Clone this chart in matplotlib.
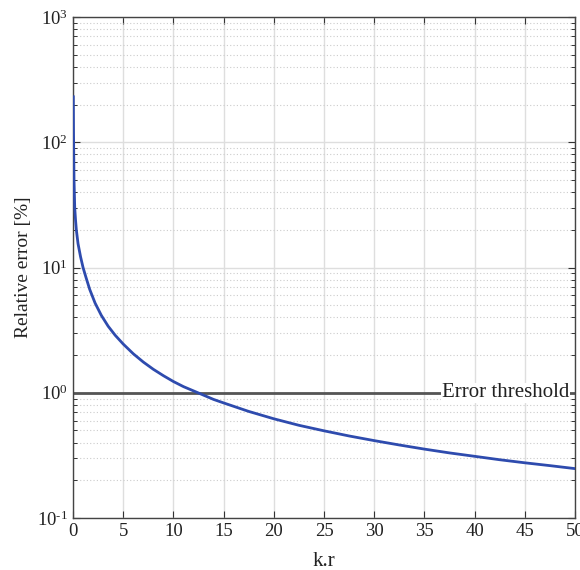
import numpy as np
import matplotlib
matplotlib.use("Agg")
import matplotlib.pyplot as plt
from matplotlib.ticker import LogLocator, NullFormatter, FuncFormatter

# values
kr = [0.03, 0.05, 0.1, 0.17, 0.25, 0.33, 0.5, 0.75, 1.0, 1.3, 1.66, 2.2,
      2.82, 3.5, 4.2, 5.0, 6.0, 7.0, 8.0, 9.0, 10.0, 11.0, 12.45, 14.0,
      15.0, 17.5, 20.0, 22.5, 25.0, 27.5, 30.0, 32.5, 35.0, 37.5, 40.0,
      42.5, 45.0, 47.5, 50.0]
rel_error = [231, 120, 50, 30, 24, 20, 15.5, 12.2, 10.0, 8.3, 6.7, 5.2,
             4.15, 3.4, 2.88, 2.45, 2.05, 1.76, 1.54, 1.37, 1.23, 1.12,
             1.0, 0.885, 0.83, 0.71, 0.62, 0.55, 0.497, 0.452, 0.415,
             0.383, 0.355, 0.331, 0.311, 0.292, 0.276, 0.262, 0.248]
threshold = 1.0
x_ticks = [0, 5, 10, 15, 20, 25, 30, 35, 40, 45, 50]

plt.rcParams["font.family"] = ["Liberation Serif", "DejaVu Serif"]
plt.rcParams["mathtext.fontset"] = "stix"


def log_label(v, pos):
    e = int(round(np.log10(v)))
    sup = str(e) if e >= 0 else r"\text{-}" + str(-e)
    return r"$\mathdefault{10^{%s}}$" % sup


fig = plt.figure(figsize=(5.8, 5.7), dpi=100)
ax = fig.add_axes([0.1259, 0.0912, 0.8655, 0.8788])

ax.plot(kr, rel_error, color="#2E4BAE", lw=2.0, zorder=3)
ax.plot([0, 50], [threshold, threshold], color="#555555", lw=2.0, zorder=2)
ax.text(49.4, threshold, "Error threshold", ha="right", va="center",
        fontsize=15, color="#222222", zorder=4,
        bbox=dict(facecolor="white", edgecolor="none", pad=0.5))

ax.set_yscale("log")
ax.set_xlim(0, 50)
ax.set_ylim(0.1, 1000)
ax.set_xticks(x_ticks)
ax.yaxis.set_major_locator(LogLocator(base=10, numticks=10))
ax.yaxis.set_major_formatter(FuncFormatter(log_label))
ax.yaxis.set_minor_locator(LogLocator(base=10, subs=np.arange(2, 10), numticks=20))
ax.yaxis.set_minor_formatter(NullFormatter())

ax.grid(True, which="major", color="#dedede", lw=1.0, ls="-")
ax.grid(True, which="minor", axis="y", color="#cccccc", lw=0.8, ls=(0, (1, 2)))
ax.set_axisbelow(True)

ax.tick_params(which="both", direction="in", top=True, right=True,
               colors="#333333", labelcolor="#222222", labelsize=13.5)
ax.tick_params(which="major", length=5, width=0.8)
ax.tick_params(which="minor", length=3, width=0.7)
for s in ax.spines.values():
    s.set_color("#444444")
    s.set_linewidth(1.0)

ax.set_xlabel("k.r", fontsize=15, color="#222222", labelpad=9)
ax.set_ylabel("Relative error [%]", fontsize=14, color="#222222")
ax.yaxis.set_label_coords(-0.082, 0.5)

fig.savefig("out.png", dpi=100)
